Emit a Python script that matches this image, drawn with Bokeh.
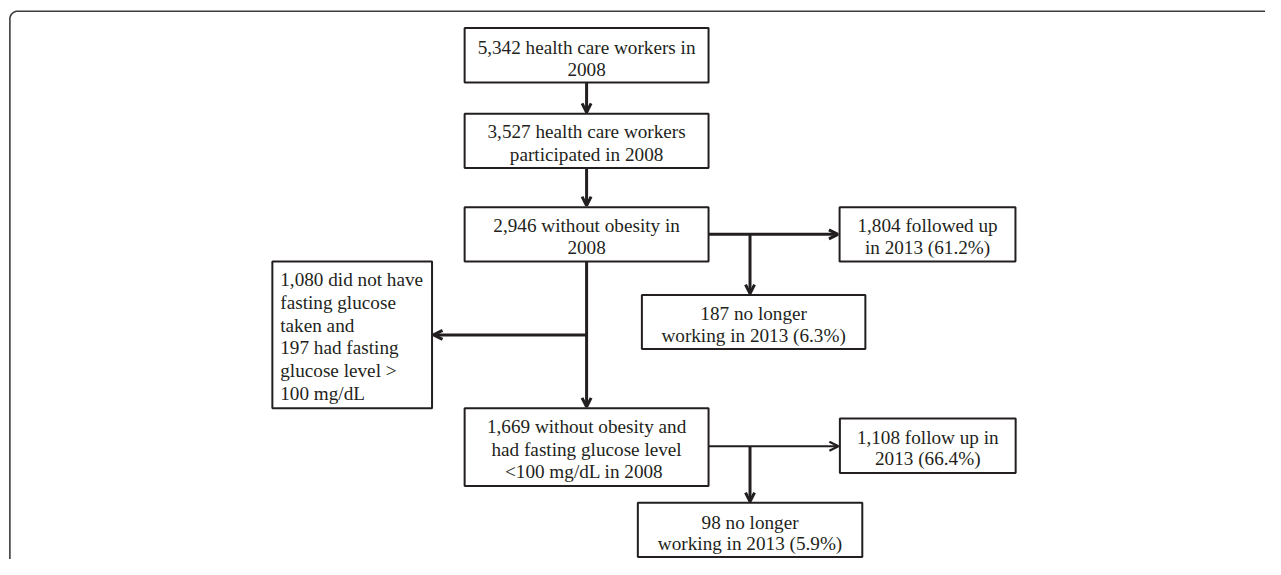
import numpy as np
from bokeh.plotting import figure
from bokeh.models import Range1d, ColumnDataSource, Arrow, OpenHead
from bokeh.core.properties import value
from bokeh.embed import file_html
from bokeh.resources import INLINE

# ---- content (text of each box, one list entry per line) ----
box_names = ["start", "participated", "no_obesity", "followed", "left1",
             "excluded", "no_obesity_glucose", "follow2", "left2"]
box_lines = [
    ["5,342 health care workers in", "2008"],
    ["3,527 health care workers", "participated in 2008"],
    ["2,946 without obesity in", "2008"],
    ["1,804 followed up", "in 2013 (61.2%)"],
    ["187 no longer", "working in 2013 (6.3%)"],
    ["1,080 did not have", "fasting glucose", "taken and", "197 had fasting",
     "glucose level >", "100 mg/dL"],
    ["1,669 without obesity and", "had fasting glucose level", "<100 mg/dL  in 2008"],
    ["1,108 follow up in", "2013 (66.4%)"],
    ["98 no longer", "working in 2013 (5.9%)"],
]

# ---- layout (reference pixel coordinates, 1281 x 575 space) ----
# left, right, top, bottom, first baseline, line step, alignment
layout = {
    "start":              (470, 717, 28.3, 84.3, 53.8, 22.0, "center"),
    "participated":       (470, 717, 116.6, 172.3, 140.2, 22.8, "center"),
    "no_obesity":         (470, 717, 212.7, 268.4, 236.7, 22.5, "center"),
    "followed":           (849.7, 1027.8, 212.7, 268.4, 236.7, 22.5, "center"),
    "left1":              (649.5, 875.8, 302.9, 358.6, 326.8, 22.5, "center"),
    "excluded":           (275.3, 437.0, 268.4, 419.5, 292.3, 23.35, "left"),
    "no_obesity_glucose": (470, 717, 419.5, 499.5, 443.3, 23.1, "center"),
    "follow2":            (850, 1028, 430.0, 486.0, 454.0, 22.5, "center"),
    "left2":              (645.4, 872.7, 516.7, 572.5, 541.5, 22.0, "center"),
}
baseline_fix = -5.0  # renderer places alphabetic baseline a little low

ink = "#231f20"
font = value("Liberation Serif")

p = figure(width=1265, height=559, x_range=Range1d(0, 1281), y_range=Range1d(575, 0),
           toolbar_location=None, output_backend="svg", x_axis_type=None, y_axis_type=None,
           min_border=0, outline_line_color=None, background_fill_color="white",
           border_fill_color="white")
p.grid.visible = False

# outer rounded frame (only top-left corner visible)
r = 8.0
fx, fy = 9.5, 11.0
ang = np.linspace(np.pi, 1.5 * np.pi, 20)
frame_x = [fx] + list(fx + r + r * np.cos(ang)) + [1300]
frame_y = [600] + list(fy + r + r * np.sin(ang)) + [fy]
p.line(frame_x, frame_y, line_color="#3c3c3c", line_width=1.6)

# boxes
L, R, T, B = [], [], [], []
tx, ty, tt, ta = [], [], [], []
for name, lines in zip(box_names, box_lines):
    l, rr, t, b, base, step, align = layout[name]
    L.append(l); R.append(rr); T.append(t); B.append(b)
    for i, s in enumerate(lines):
        tx.append((l + rr) / 2 if align == "center" else l + 8)
        ty.append(base + baseline_fix + i * step)
        tt.append(s)
        ta.append(align)

p.quad(left=L, right=R, top=T, bottom=B, fill_color="white", line_color=ink, line_width=2)
p.text(x=tx, y=ty, text=tt, text_align=ta, text_baseline="alphabetic",
       text_font=font, text_font_size="19.2px", text_color=ink)

# connector lines and arrows
cx = 593.5
bx = 759.0
thick = ColumnDataSource(dict(
    x0=[cx, cx, 717, bx, cx, cx, bx],
    y0=[84.3, 172.3, 240.5, 240.5, 268.4, 344.0, 458.6],
    x1=[cx, cx, 848.0, bx, cx, 438.5, bx],
    y1=[115.0, 211.0, 240.5, 301.5, 418.0, 344.0, 515.5],
))
p.add_layout(Arrow(end=OpenHead(size=9, line_width=3, line_color=ink),
                   x_start="x0", y_start="y0", x_end="x1", y_end="y1",
                   source=thick, line_width=3, line_color=ink))
thin = ColumnDataSource(dict(x0=[717], y0=[458.6], x1=[848.5], y1=[458.6]))
p.add_layout(Arrow(end=OpenHead(size=9, line_width=2.2, line_color=ink),
                   x_start="x0", y_start="y0", x_end="x1", y_end="y1",
                   source=thin, line_width=2, line_color=ink))

open("out.html", "w").write(file_html(p, INLINE))
